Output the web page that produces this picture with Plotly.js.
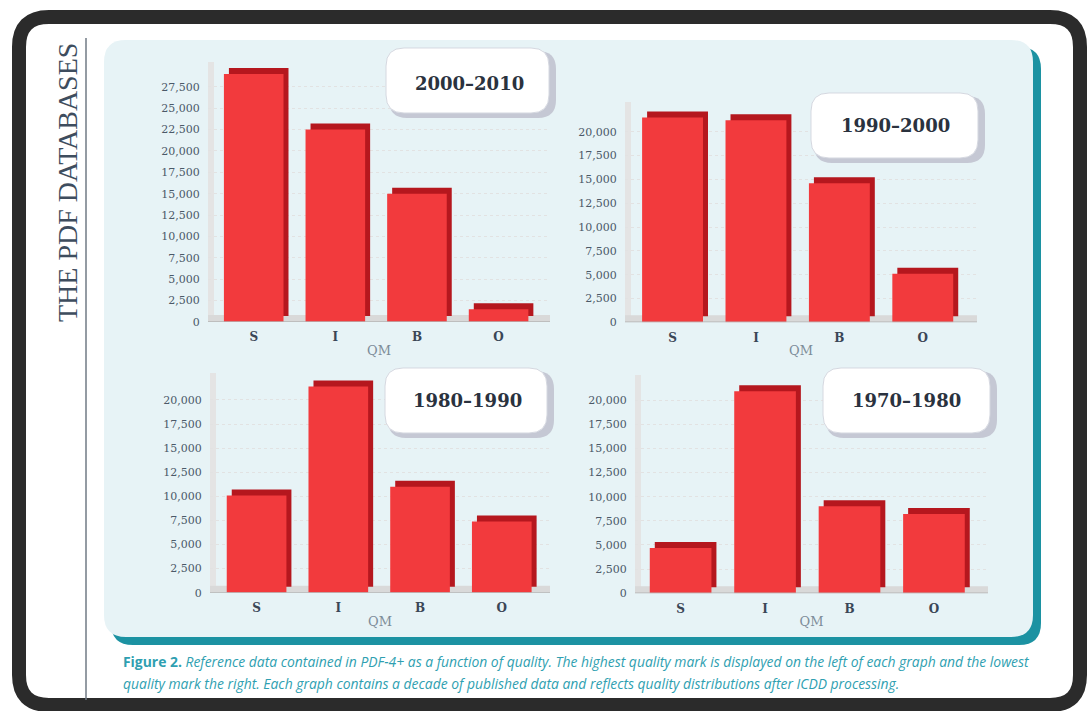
<!DOCTYPE html>
<html><head><meta charset="utf-8">
<script src="https://cdn.plot.ly/plotly-3.0.1.min.js"></script>
<style>html,body{margin:0;padding:0;background:#fff;}#chart{width:1087px;height:711px;}</style>
</head><body><div id="chart"></div>
<script>
const W = 1087, H = 711;

// ---- data ----
const categories = ['S', 'I', 'B', 'O'];
const decades = ['2000–2010', '1990–2000', '1980–1990', '1970–1980'];
const counts2000s = [29000, 22500, 15000, 1500];
const counts1990s = [21500, 21200, 14600, 5100];
const counts1980s = [10100, 21400, 11000, 7400];
const counts1970s = [4700, 20900, 9000, 8200];
const ticksTo27500 = [0, 2500, 5000, 7500, 10000, 12500, 15000, 17500, 20000, 22500, 25000, 27500];
const ticksTo20000 = [0, 2500, 5000, 7500, 10000, 12500, 15000, 17500, 20000];
const xAxisLabel = 'QM';
const sideTitle = 'THE PDF DATABASES';
const captionLine1 = '<b>Figure 2.</b> <i>Reference data contained in PDF-4+ as a function of quality. The highest quality mark is displayed on the left of each graph and the lowest</i>';
const captionLine2 = '<i>quality mark the right. Each graph contains a decade of published data and reflects quality distributions after ICDD processing.</i>';
const seriesByPanel = [counts2000s, counts1990s, counts1980s, counts1970s];
const ticksByPanel = [ticksTo27500, ticksTo20000, ticksTo20000, ticksTo20000];

// ---- layout geometry (pixels) ----
const geo = [
  {L:208, R:550, T:62,  B:322,   xr:[-0.56,3.63], ymax:30390, box:[386,48,549,113],  tx:470, ty:83},
  {L:625, R:977, T:102, B:322.3, xr:[-0.57,3.65], ymax:23116, box:[811,93,978,158],  tx:895, ty:125},
  {L:210, R:550, T:373, B:592.7, xr:[-0.57,3.59], ymax:22800, box:[385,368,547,433], tx:468, ty:400},
  {L:635, R:988, T:375, B:593.3, xr:[-0.54,3.64], ymax:22590, box:[823,368,990,433], tx:906, ty:400}
];

const X = v => +(v / W).toFixed(5);
const Y = v => +(1 - v / H).toFixed(5);
function rr(x0, y0, x1, y1, r) {
  return `M${X(x0+r)},${Y(y0)} L${X(x1-r)},${Y(y0)} Q${X(x1)},${Y(y0)} ${X(x1)},${Y(y0+r)} ` +
         `L${X(x1)},${Y(y1-r)} Q${X(x1)},${Y(y1)} ${X(x1-r)},${Y(y1)} L${X(x0+r)},${Y(y1)} ` +
         `Q${X(x0)},${Y(y1)} ${X(x0)},${Y(y1-r)} L${X(x0)},${Y(y0+r)} Q${X(x0)},${Y(y0)} ${X(x0+r)},${Y(y0)} Z`;
}

const traces = [];
const shapes = [];
const annotations = [];
const layout = {
  width: W, height: H, autosize: false,
  margin: {l:0, r:0, t:0, b:0, pad:0},
  paper_bgcolor: '#ffffff', plot_bgcolor: '#ffffff',
  barmode: 'overlay', showlegend: false,
  font: {family: 'DejaVu Serif', color: '#4b5968', size: 11}
};

// background decorations (paper)
shapes.push({type:'path', xref:'paper', yref:'paper', layer:'below', path: rr(111,47,1041,645,22),
  fillcolor:'#1c92a2', line:{width:0}});
shapes.push({type:'path', xref:'paper', yref:'paper', layer:'below', path: rr(104,40,1033,637,22),
  fillcolor:'#e7f3f6', line:{width:0}});
shapes.push({type:'path', xref:'paper', yref:'paper', layer:'below', path: rr(19,17,1080,705,30),
  fillcolor:'rgba(0,0,0,0)', line:{color:'#2b2b2b', width:14}});
shapes.push({type:'line', xref:'paper', yref:'paper', layer:'below', x0:X(86), x1:X(86), y0:Y(38), y1:Y(700),
  line:{color:'#707a84', width:1.5}});

seriesByPanel.forEach((vals, i) => {
  const g = geo[i];
  const s = i === 0 ? '' : String(i + 1);
  const xa = 'x' + s, ya = 'y' + s;
  const pxPerUnitY = (g.B - g.T) / g.ymax;
  const pxPerCat = (g.R - g.L) / (g.xr[1] - g.xr[0]);
  const depth = 6 / pxPerUnitY;

  traces.push({type:'bar', x:categories, y:vals, base:depth, offset:-0.365 + 5/pxPerCat, width:0.73,
    marker:{color:'#b5171e', line:{width:0}}, xaxis:xa, yaxis:ya, hoverinfo:'skip'});
  traces.push({type:'bar', x:categories, y:vals, offset:-0.365, width:0.73,
    marker:{color:'#f23a3d', line:{width:0}}, xaxis:xa, yaxis:ya, hoverinfo:'skip'});

  layout['xaxis' + s] = {
    domain:[X(g.L), X(g.R)], anchor: ya, type:'category', range:g.xr,
    showgrid:false, zeroline:false, showline:false,
    ticks:'outside', ticklen:4, tickcolor:'rgba(0,0,0,0)',
    tickfont:{family:'DejaVu Serif', size:12, color:'#3a4656', weight:700},
    title:{text:xAxisLabel, standoff:2, font:{family:'DejaVu Serif', size:13, color:'#7d8c99'}}
  };
  layout['yaxis' + s] = {
    domain:[Y(g.B), Y(g.T)], anchor: xa, range:[0, g.ymax],
    tickmode:'array', tickvals:ticksByPanel[i], tickformat:',d',
    showgrid:true, gridcolor:'#e2e2e2', griddash:'dot', gridwidth:1,
    zeroline:false, showline:false,
    ticks:'outside', ticklen:5, tickcolor:'rgba(0,0,0,0)',
    tickfont:{family:'DejaVu Serif', size:11, color:'#4b5968'}
  };

  // 3D floor and wall decorations
  shapes.push({type:'rect', xref:xa, yref:ya, layer:'below', x0:g.xr[0], x1:g.xr[0] + 6/pxPerCat, y0:0, y1:g.ymax,
    fillcolor:'#e4e4e4', line:{width:0}});
  shapes.push({type:'rect', xref:xa, yref:ya, layer:'below', x0:g.xr[0], x1:g.xr[1], y0:0, y1:7/pxPerUnitY,
    fillcolor:'#d9d9d9', line:{width:0}});
  shapes.push({type:'line', xref:xa, yref:ya, layer:'above', x0:g.xr[0], x1:g.xr[1], y0:0, y1:0,
    line:{color:'#b4b4b4', width:1.5}});

  // decade title box
  const b = g.box;
  shapes.push({type:'path', xref:'paper', yref:'paper', layer:'above', path: rr(b[0]+3, b[1]+3, b[2]+7, b[3]+5, 18),
    fillcolor:'#c5c8d4', line:{width:0}});
  shapes.push({type:'path', xref:'paper', yref:'paper', layer:'above', path: rr(b[0], b[1], b[2], b[3], 18),
    fillcolor:'#ffffff', line:{color:'#d5d8e0', width:1}});
  annotations.push({xref:'paper', yref:'paper', x:X(g.tx), y:Y(g.ty), xanchor:'center', yanchor:'middle',
    text:decades[i], showarrow:false,
    font:{family:'DejaVu Serif', size:18, color:'#2a323e', weight:700}});
});

annotations.push({xref:'paper', yref:'paper', x:X(68), y:Y(183), xanchor:'center', yanchor:'middle',
  text:sideTitle, textangle:-90, showarrow:false,
  font:{family:'Liberation Serif', size:28, color:'#3e4d5e'}});
annotations.push({xref:'paper', yref:'paper', x:X(121), y:Y(662), xanchor:'left', yanchor:'middle',
  text:captionLine1, showarrow:false, align:'left',
  font:{family:'Open Sans', size:13.9, color:'#2f9fb1'}});
annotations.push({xref:'paper', yref:'paper', x:X(121), y:Y(683), xanchor:'left', yanchor:'middle',
  text:captionLine2, showarrow:false, align:'left',
  font:{family:'Open Sans', size:13.9, color:'#2f9fb1'}});

layout.shapes = shapes;
layout.annotations = annotations;

Plotly.newPlot('chart', traces, layout, {displayModeBar:false, staticPlot:true});
</script>
</body></html>
